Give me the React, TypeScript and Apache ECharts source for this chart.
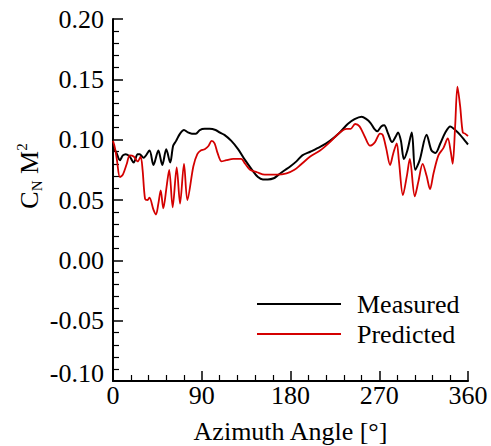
import React, { useEffect, useRef } from "react";
import * as echarts from "echarts";

const measuredAngle = [0, 3, 7, 10, 13, 17, 21, 25, 27, 31, 37, 41, 46, 50, 54, 58, 61, 64, 68, 72, 76, 80, 84, 88, 93, 98, 104, 108, 113, 120, 127, 134, 141, 147, 152, 157, 163, 168, 173, 180, 186, 192, 200, 210, 220, 230, 238, 245, 252, 257, 261, 265, 268, 272, 275, 279, 283, 287, 289, 292, 295, 298.5, 303, 306.5, 311, 318, 323, 327, 332, 337, 342, 347, 352, 357, 360];
const measuredValue = [0.093, 0.09, 0.083, 0.087, 0.088, 0.086, 0.081, 0.088, 0.088, 0.085, 0.091, 0.079, 0.091, 0.079, 0.092, 0.081, 0.095, 0.099, 0.105, 0.108, 0.106, 0.105, 0.105, 0.108, 0.109, 0.109, 0.108, 0.106, 0.104, 0.099, 0.092, 0.083, 0.075, 0.069, 0.067, 0.067, 0.068, 0.071, 0.074, 0.078, 0.082, 0.087, 0.09, 0.094, 0.099, 0.106, 0.113, 0.117, 0.119, 0.117, 0.114, 0.109, 0.107, 0.111, 0.112, 0.105, 0.098, 0.103, 0.106, 0.099, 0.084, 0.091, 0.106, 0.075, 0.083, 0.104, 0.091, 0.089, 0.097, 0.106, 0.111, 0.108, 0.104, 0.099, 0.096];

const predictedAngle = [0, 2, 4, 7, 10, 14, 17, 21, 25, 28, 30, 32.5, 35, 37, 41, 43.6, 46, 48.4, 51, 54.5, 57, 60.5, 64.6, 68, 72, 75.4, 81.5, 85.5, 89, 93, 97, 100, 103, 106, 110, 115, 122, 130, 134, 139, 146, 154, 166, 176, 184, 190, 200, 210, 220, 230, 237, 241, 245.5, 250, 255.6, 260.6, 265.7, 270.8, 273.5, 277, 281, 284, 287.7, 290, 294, 298, 301, 306, 309.6, 314, 318, 321.5, 325, 330, 335, 339.5, 342.5, 344.5, 347, 349.3, 352, 354.7, 357, 360];
const predictedValue = [0.099, 0.093, 0.083, 0.069, 0.071, 0.08, 0.087, 0.086, 0.082, 0.086, 0.075, 0.051, 0.05, 0.052, 0.042, 0.038, 0.047, 0.058, 0.043, 0.062, 0.075, 0.044, 0.077, 0.047, 0.08, 0.05, 0.078, 0.088, 0.091, 0.092, 0.095, 0.099, 0.097, 0.089, 0.082, 0.083, 0.084, 0.084, 0.08, 0.075, 0.073, 0.071, 0.071, 0.072, 0.075, 0.079, 0.086, 0.091, 0.098, 0.106, 0.109, 0.109, 0.113, 0.111, 0.102, 0.095, 0.098, 0.105, 0.104, 0.093, 0.079, 0.088, 0.097, 0.082, 0.054, 0.07, 0.084, 0.053, 0.065, 0.08, 0.07, 0.059, 0.072, 0.087, 0.093, 0.101, 0.09, 0.08, 0.112, 0.144, 0.128, 0.106, 0.105, 0.103];

const xTicks = { min: 0, max: 360, interval: 90 };
const yTicks = { min: -0.1, max: 0.2, interval: 0.05 };

const FONT = "Liberation Serif";

export default function App() {
  const ref = useRef<HTMLDivElement>(null);
  useEffect(() => {
    if (!ref.current) return;
    const chart = echarts.init(ref.current, null, { renderer: "svg" });
    const zip = (a: number[], b: number[]) => a.map((x, i) => [x, b[i]]);
    const axisCommon = {
      axisLine: { show: true, onZero: false, lineStyle: { color: "#000", width: 2 } },
      axisTick: { show: true, inside: true, length: 10, lineStyle: { color: "#000", width: 1.5 } },
      minorTick: { show: true, splitNumber: 5, length: 6, lineStyle: { color: "#000", width: 1.2 } },
      splitLine: { show: false },
    };
    const labelStyle = { fontFamily: FONT, fontSize: 26, color: "#000", fontWeight: "normal" as const };
    chart.setOption({
      animation: false,
      textStyle: { fontFamily: FONT, color: "#000" },
      grid: { left: 113, right: 23, top: 19, bottom: 65, outerBoundsMode: "none" },
      xAxis: {
        type: "value",
        ...xTicks,
        ...axisCommon,
        name: "Azimuth Angle [°]",
        nameLocation: "middle",
        nameGap: 37,
        nameTextStyle: { fontFamily: FONT, fontSize: 26, color: "#000" },
        axisLabel: { ...labelStyle, margin: 1 },
      },
      yAxis: {
        type: "value",
        ...yTicks,
        ...axisCommon,
        axisLabel: {
          ...labelStyle,
          margin: 9,
          formatter: (v: number) =>
            Math.abs(v + 0.1) < 1e-9 ? "{m|-0.10}" : v.toFixed(2),
          rich: {
            m: { ...labelStyle, padding: [0, 0, 16, 0] },
          },
        },
      },
      legend: {
        data: ["Measured", "Predicted"],
        orient: "vertical",
        left: 257,
        top: 291,
        padding: 0,
        icon: "rect",
        itemWidth: 84,
        itemHeight: 2,
        itemGap: 4,
        textStyle: { fontFamily: FONT, fontSize: 26, color: "#000", lineHeight: 26, padding: [0, 0, 0, 11] },
      },
      graphic: [
        {
          type: "text",
          x: 29,
          y: 176,
          rotation: Math.PI / 2,
          style: {
            text: "{c|C}{s|N}{c| M}{p|2}",
            align: "center",
            verticalAlign: "middle",
            rich: {
              c: { fontFamily: FONT, fontSize: 26, fill: "#000", lineHeight: 30 },
              s: { fontFamily: FONT, fontSize: 15, fill: "#000", verticalAlign: "bottom", lineHeight: 30 },
              p: { fontFamily: FONT, fontSize: 15, fill: "#000", verticalAlign: "top", lineHeight: 30 },
            },
          },
        },
      ],
      series: [
        {
          name: "Measured",
          type: "line",
          data: zip(measuredAngle, measuredValue),
          symbol: "none",
          smooth: 0.3,
          lineStyle: { color: "#000", width: 2 },
          itemStyle: { color: "#000" },
        },
        {
          name: "Predicted",
          type: "line",
          data: zip(predictedAngle, predictedValue),
          symbol: "none",
          smooth: 0.3,
          lineStyle: { color: "#d40000", width: 1.8 },
          itemStyle: { color: "#d40000" },
        },
      ],
    });
    return () => chart.dispose();
  }, []);
  return <div ref={ref} style={{ width: 491, height: 446, position: "absolute", left: 0, top: 0 }} />;
}
